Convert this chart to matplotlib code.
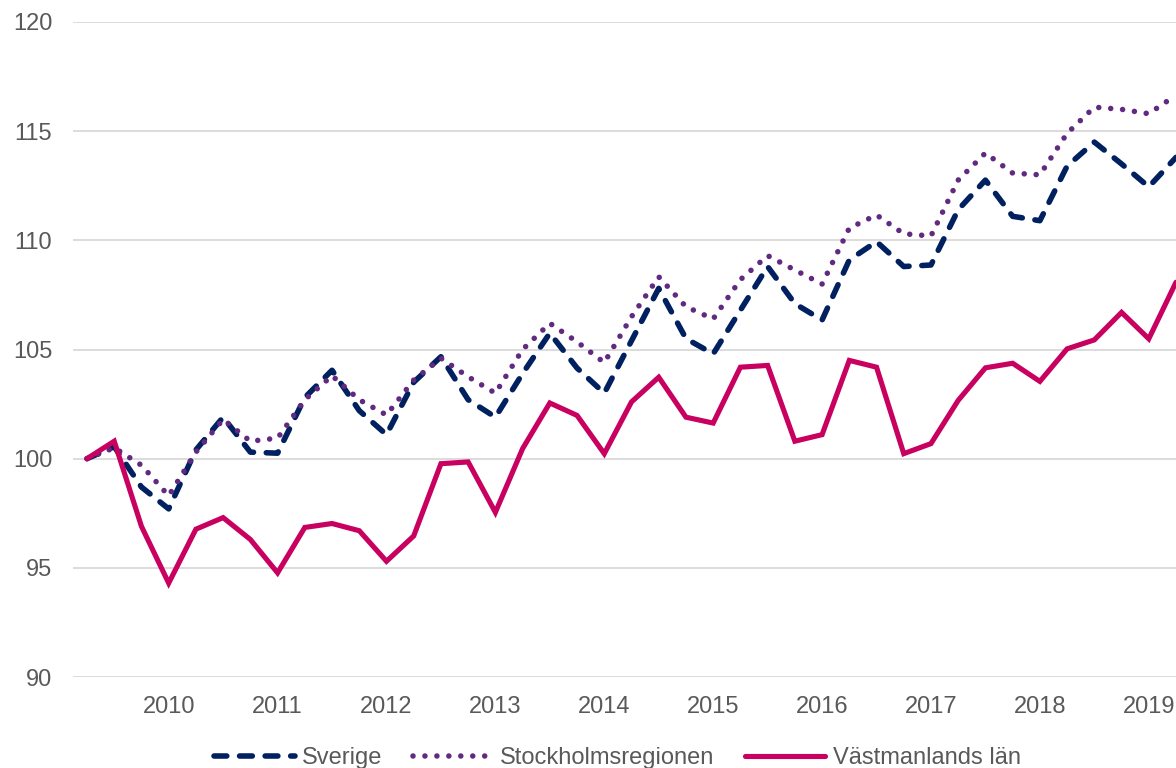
import matplotlib
matplotlib.use("Agg")
import matplotlib.pyplot as plt
import numpy as np

plt.rcParams['font.family'] = ['Liberation Sans', 'DejaVu Sans']

# Quarterly index, first point = 100
sverige = [100.0, 100.55, 98.7, 97.7, 100.4, 101.9, 100.3, 100.25, 102.8, 104.05,
           102.2, 101.1, 103.5, 104.67, 102.7, 101.9, 103.9, 105.75, 104.15, 103.0,
           105.4, 107.8, 105.5, 104.8, 106.8, 108.8, 107.1, 106.35, 109.1, 109.94,
           108.8, 108.87, 111.4, 112.76, 111.1, 110.9, 113.4, 114.5, 113.5, 112.45,
           113.8]
stockholm = [100.0, 100.5, 99.7, 98.3, 100.3, 101.8, 100.8, 100.94, 102.7, 103.8,
             102.7, 102.0, 103.6, 104.6, 103.75, 103.0, 105.0, 106.2, 105.35, 104.4,
             106.5, 108.33, 106.96, 106.4, 108.2, 109.3, 108.64, 108.0, 110.56, 111.16,
             110.3, 110.2, 112.76, 114.0, 113.08, 113.0, 114.9, 116.1, 116.0, 115.8,
             116.65]
vastmanland = [100.0, 100.8, 96.9, 94.3, 96.77, 97.3, 96.3, 94.77, 96.85, 97.03,
               96.7, 95.3, 96.46, 99.77, 99.85, 97.54, 100.46, 102.55, 101.98, 100.23,
               102.6, 103.73, 101.9, 101.63, 104.19, 104.27, 100.8, 101.1, 104.5, 104.19,
               100.23, 100.69, 102.67, 104.16, 104.37, 103.54, 105.03, 105.44, 106.7, 105.49,
               108.08]
series_names = ["Sverige", "Stockholmsregionen", "Västmanlands län"]
year_labels = ["2010", "2011", "2012", "2013", "2014", "2015", "2016", "2017", "2018", "2019"]
year_label_index = [3, 7, 11, 15, 19, 23, 27, 31, 35, 39]
y_ticks = [90, 95, 100, 105, 110, 115, 120]

W, H = 1176, 768
fig = plt.figure(figsize=(W / 100, H / 100), dpi=100)
left_px, right_px, top_px, bottom_px = 73, 1176, 22, 677
ax = fig.add_axes([left_px / W, 1 - bottom_px / H, (right_px - left_px) / W, (bottom_px - top_px) / H])

x = np.arange(len(sverige))
navy = '#002060'
purple = '#612a80'
pink = '#c8005f'

l1, = ax.plot(x, sverige, color=navy, lw=4.0, linestyle=(0, (2.3, 2.3)),
              dash_capstyle='round', solid_joinstyle='round', label=series_names[0], zorder=3)
l2, = ax.plot(x, stockholm, color=purple, lw=4.0, linestyle=(0, (0.001, 2.15)),
              dash_capstyle='round', label=series_names[1], zorder=4)
l3, = ax.plot(x, vastmanland, color=pink, lw=3.7, solid_joinstyle='miter',
              solid_capstyle='round', label=series_names[2], zorder=5)

x0 = (left_px - 87) / 27.22
ax.set_xlim(x0, 40)
ax.set_ylim(90, 120)
ax.set_yticks(y_ticks)
ax.set_xticks(year_label_index)
ax.set_xticklabels(year_labels)
ax.yaxis.grid(True, color='#d9d9d9', lw=1.3)
ax.set_axisbelow(True)
for s in ax.spines.values():
    s.set_visible(False)
ax.tick_params(axis='both', length=0, labelsize=17, labelcolor='#595959')
ax.tick_params(axis='y', pad=15)
ax.tick_params(axis='x', pad=14)

leg = fig.legend(handles=[l1, l2, l3], loc='center', bbox_to_anchor=(0.525, 1 - 758 / H),
                 ncol=3, frameon=False, fontsize=17, handlelength=3.4, handletextpad=0.3,
                 columnspacing=1.3, labelcolor='#595959')

fig.savefig('out.png', dpi=100)
